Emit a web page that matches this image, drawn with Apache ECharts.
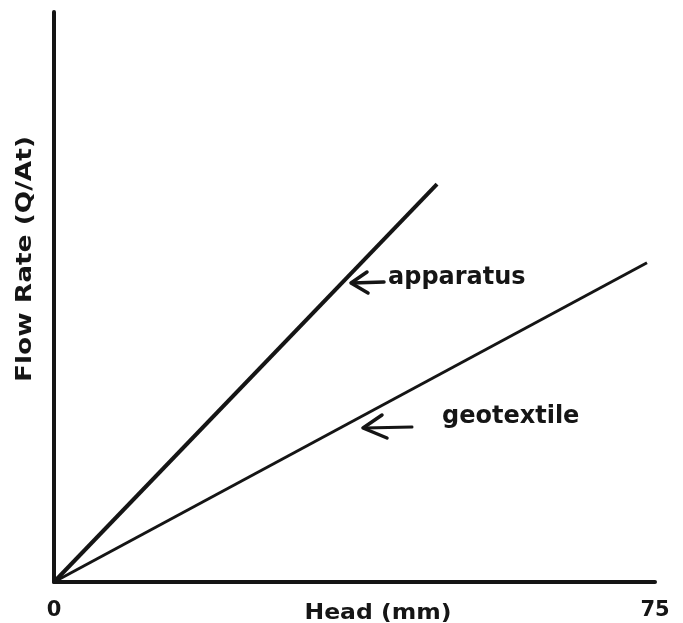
<!DOCTYPE html>
<html>
<head>
<meta charset="utf-8">
<title>Flow rate vs head</title>
<script src="https://cdn.jsdelivr.net/npm/echarts@6/dist/echarts.min.js"></script>
<style>
  html, body { margin: 0; padding: 0; background: #fff; }
  #chart { width: 683px; height: 623px; }
</style>
</head>
<body>
<div id="chart"></div>
<script>
// head (mm) on x, flow rate on y (arbitrary units, 0-100)
const apparatusX = [0, 47.8];
const apparatusY = [0, 69.8];
const geotextileX = [0, 74.0];
const geotextileY = [0, 56.0];
const xTicks = [0, 75];

const font = "DejaVu Sans";
const ink = "#151515";

const chart = echarts.init(document.getElementById("chart"));

function pairs(xs, ys) {
  return xs.map((x, i) => [x, ys[i]]);
}

chart.setOption({
  animation: false,
  grid: { left: 54, right: 28, top: 12, bottom: 41 },
  xAxis: {
    type: "value",
    min: xTicks[0],
    max: xTicks[xTicks.length - 1],
    interval: xTicks[1] - xTicks[0],
    axisLine: { show: true, lineStyle: { color: ink, width: 4 } },
    axisTick: { show: false },
    splitLine: { show: false },
    axisLabel: {
      margin: 18,
      fontFamily: font,
      fontWeight: "bold",
      fontSize: 21,
      color: ink
    }
  },
  yAxis: {
    type: "value",
    min: 0,
    max: 100,
    axisLine: { show: true, lineStyle: { color: ink, width: 4 } },
    axisTick: { show: false },
    splitLine: { show: false },
    axisLabel: { show: false }
  },
  series: [
    {
      name: "apparatus",
      type: "line",
      data: pairs(apparatusX, apparatusY),
      showSymbol: false,
      lineStyle: { color: ink, width: 4 }
    },
    {
      name: "geotextile",
      type: "line",
      data: pairs(geotextileX, geotextileY),
      showSymbol: false,
      lineStyle: { color: ink, width: 3 }
    }
  ],
  graphic: [
    {
      type: "text",
      x: 25, y: 259,
      rotation: Math.PI / 2,
      scaleX: 1.2,
      style: {
        text: "Flow Rate (Q/At)",
        font: "bold 22px " + font,
        fill: ink,
        align: "center",
        verticalAlign: "middle"
      }
    },
    {
      type: "text",
      x: 378, y: 614,
      scaleX: 1.12,
      style: {
        text: "Head (mm)",
        font: "bold 21px " + font,
        fill: ink,
        align: "center",
        verticalAlign: "middle"
      }
    },
    {
      type: "text",
      x: 388, y: 278,
      style: {
        text: "apparatus",
        font: "bold 24px " + font,
        fill: ink,
        align: "left",
        verticalAlign: "middle"
      }
    },
    {
      type: "text",
      x: 442, y: 417,
      style: {
        text: "geotextile",
        font: "bold 24px " + font,
        fill: ink,
        align: "left",
        verticalAlign: "middle"
      }
    },
    // arrows
    {
      type: "polyline",
      shape: { points: [[384, 282], [352, 283]] },
      style: { stroke: ink, lineWidth: 3.5, lineCap: "round" }
    },
    {
      type: "polyline",
      shape: { points: [[367, 272], [351, 283], [368, 293]] },
      style: { stroke: ink, lineWidth: 3.5, lineCap: "round", lineJoin: "round", fill: null }
    },
    {
      type: "polyline",
      shape: { points: [[412, 427], [364, 428]] },
      style: { stroke: ink, lineWidth: 3, lineCap: "round" }
    },
    {
      type: "polyline",
      shape: { points: [[382, 415], [363, 428], [387, 438]] },
      style: { stroke: ink, lineWidth: 3.5, lineCap: "round", lineJoin: "round", fill: null }
    }
  ]
});
</script>
</body>
</html>
